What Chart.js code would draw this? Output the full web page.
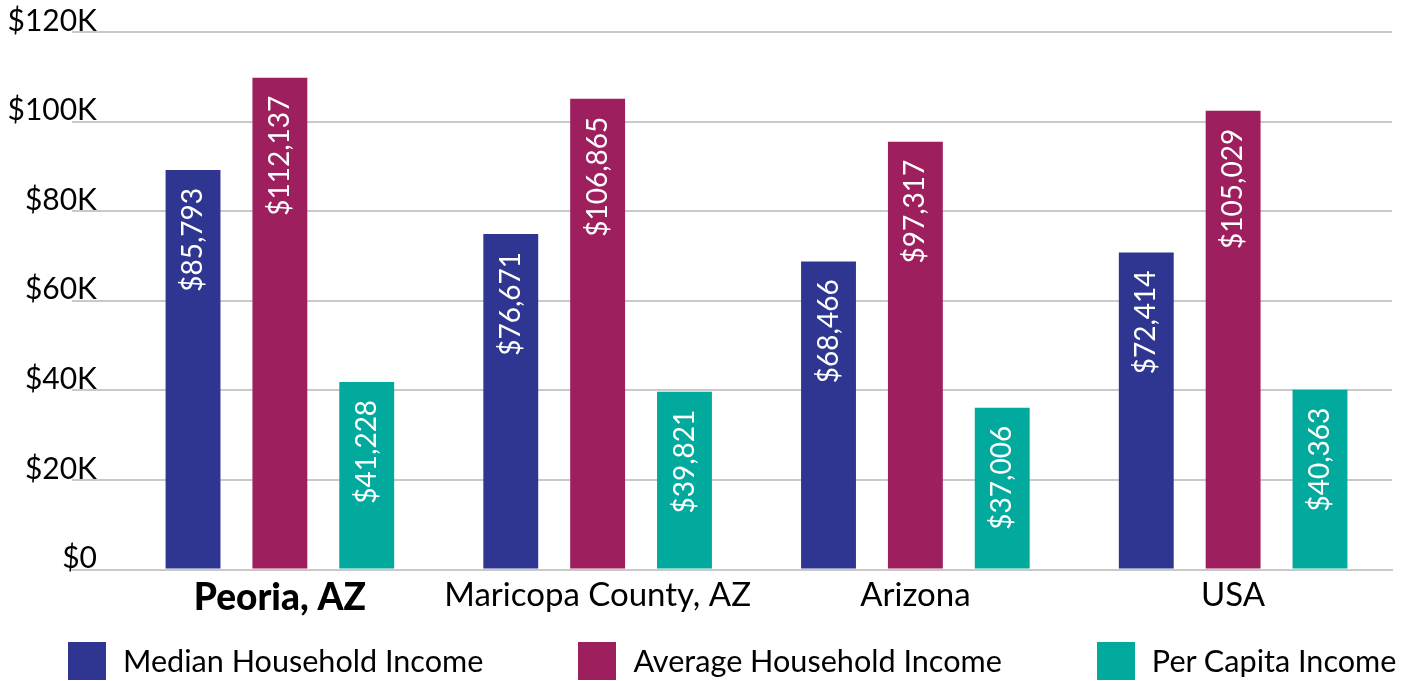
<!DOCTYPE html>
<html>
<head>
<meta charset="utf-8">
<title>Income comparison</title>
<script src="https://cdn.jsdelivr.net/npm/chart.js@4.4.0/dist/chart.umd.min.js"></script>
<style>
  html, body { margin: 0; padding: 0; background: #fff; }
  #wrap { position: relative; width: 1419px; height: 681px; font-family: Lato, sans-serif; }
  #legend { position: absolute; left: 68px; top: 642px; display: flex; gap: 95px; }
  .item { display: flex; align-items: center; }
  .box { width: 38px; height: 38px; margin-right: 17px; }
  .txt { font-size: 30.6px; color: #000; line-height: 38px; white-space: nowrap; }
</style>
</head>
<body>
<div id="wrap">
  <canvas id="income-chart"></canvas>
  <div id="legend"></div>
</div>
<script>
  var categories = ['Peoria, AZ', 'Maricopa County, AZ', 'Arizona', 'USA'];
  var seriesNames = ['Median Household Income', 'Average Household Income', 'Per Capita Income'];
  var seriesColors = ['#2e3691', '#9e1f5d', '#02a99d'];

  // bar heights as drawn in the picture
  var medianValues = [89200, 74900, 68800, 70800];
  var averageValues = [109800, 105100, 95500, 102400];
  var perCapitaValues = [41900, 39700, 36100, 40150];

  // the printed labels inside the bars
  var medianLabels = ['$85,793', '$76,671', '$68,466', '$72,414'];
  var averageLabels = ['$112,137', '$106,865', '$97,317', '$105,029'];
  var perCapitaLabels = ['$41,228', '$39,821', '$37,006', '$40,363'];

  var yTickLabels = ['$0', '$20K', '$40K', '$60K', '$80K', '$100K', '$120K'];

  var gridColor = '#c9c9c9';

  var barLabels = {
    id: 'barLabels',
    afterDatasetsDraw: function (chart) {
      var ctx = chart.ctx;
      chart.data.datasets.forEach(function (ds, i) {
        var meta = chart.getDatasetMeta(i);
        meta.data.forEach(function (bar, j) {
          ctx.save();
          ctx.translate(bar.x, bar.y + 18);
          ctx.rotate(-Math.PI / 2);
          ctx.font = '28px Lato';
          ctx.fillStyle = '#ffffff';
          ctx.textAlign = 'right';
          ctx.textBaseline = 'middle';
          ctx.fillText(ds.valueLabels[j], 0, 0);
          ctx.restore();
        });
      });
    }
  };

  var chartContext = document.getElementById('income-chart');
  var chart = new Chart(chartContext, {
    type: 'bar',
    data: {
      labels: categories,
      datasets: [
        { label: seriesNames[0], data: medianValues, backgroundColor: seriesColors[0], valueLabels: medianLabels },
        { label: seriesNames[1], data: averageValues, backgroundColor: seriesColors[1], valueLabels: averageLabels },
        { label: seriesNames[2], data: perCapitaValues, backgroundColor: seriesColors[2], valueLabels: perCapitaLabels }
      ]
    },
    options: {
      responsive: true,
      maintainAspectRatio: false,
      animation: false,
      categoryPercentage: 0.82,
      barPercentage: 0.632,
      layout: {
        padding: { top: 32, right: 27, bottom: 55, left: 0 }
      },
      plugins: {
        legend: { display: false },
        tooltip: { enabled: false }
      },
      scales: {
        x: {
          grid: { display: false, drawTicks: false },
          border: { display: true, color: gridColor, width: 2 },
          ticks: {
            padding: 6,
            color: '#000',
            font: function (c) {
              if (c.index === 0) {
                return { family: 'Lato', size: 37, weight: 900, lineHeight: 1.2 };
              }
              return { family: 'Lato', size: 33, weight: 'normal', lineHeight: 1.2 };
            }
          }
        },
        y: {
          min: 0,
          max: 120000,
          afterFit: function (scale) { scale.width = 121; },
          grid: { color: gridColor, lineWidth: 2, tickLength: 49 },
          border: { display: false },
          ticks: {
            stepSize: 20000,
            padding: -25,
            color: '#000',
            font: { family: 'Lato', size: 30, lineHeight: '22px' },
            // second empty line lifts the text so it sits on the gridline
            callback: function (value, index) { return [yTickLabels[index], '']; }
          }
        }
      }
    },
    plugins: [barLabels]
  });

  var legendEl = document.getElementById('legend');
  seriesNames.forEach(function (name, i) {
    var item = document.createElement('div');
    item.className = 'item';
    var box = document.createElement('div');
    box.className = 'box';
    box.style.background = seriesColors[i];
    var txt = document.createElement('span');
    txt.className = 'txt';
    txt.textContent = name;
    item.appendChild(box);
    item.appendChild(txt);
    legendEl.appendChild(item);
  });
</script>
</body>
</html>
